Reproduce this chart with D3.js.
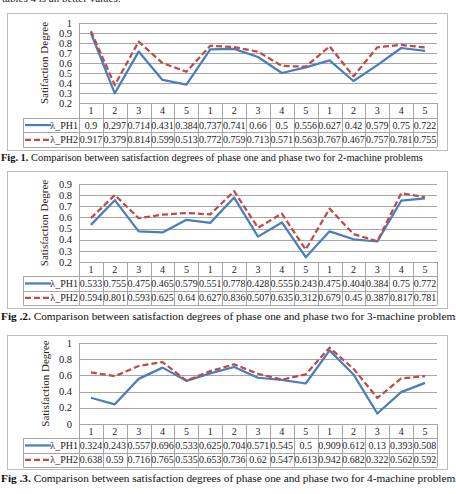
<!DOCTYPE html>
<html>
<head>
<meta charset="utf-8">
<script src="https://cdn.jsdelivr.net/npm/d3@7"></script>
<style>
  body { margin: 0; background: #fff; }
  svg { display: block; }
  svg text { font-family: 'Liberation Serif', 'Times New Roman', Times, 'DejaVu Serif', serif; }
</style>
</head>
<body>
<svg id="fig" width="456" height="494"></svg>
<script>
// problem instances (5 per group, 3 groups)
const categories = ['1','2','3','4','5','1','2','3','4','5','1','2','3','4','5'];
const seriesNames = ['λ_PH1', 'λ_PH2'];

const ph1TwoMachine = [0.9, 0.297, 0.714, 0.431, 0.384, 0.737, 0.741, 0.66, 0.5, 0.556, 0.627, 0.42, 0.579, 0.75, 0.722];
const ph2TwoMachine = [0.917, 0.379, 0.814, 0.599, 0.513, 0.772, 0.759, 0.713, 0.571, 0.563, 0.767, 0.467, 0.757, 0.781, 0.755];

const ph1ThreeMachine = [0.533, 0.755, 0.475, 0.465, 0.579, 0.551, 0.778, 0.428, 0.555, 0.243, 0.475, 0.404, 0.384, 0.75, 0.772];
const ph2ThreeMachine = [0.594, 0.801, 0.593, 0.625, 0.64, 0.627, 0.836, 0.507, 0.635, 0.312, 0.679, 0.45, 0.387, 0.817, 0.781];

const ph1FourMachine = [0.324, 0.243, 0.557, 0.696, 0.533, 0.625, 0.704, 0.571, 0.545, 0.5, 0.909, 0.612, 0.13, 0.393, 0.508];
const ph2FourMachine = [0.638, 0.59, 0.716, 0.765, 0.535, 0.653, 0.736, 0.62, 0.547, 0.613, 0.942, 0.682, 0.322, 0.562, 0.592];

const ticksFig1 = [0.2, 0.3, 0.4, 0.5, 0.6, 0.7, 0.8, 0.9, 1];
const ticksFig2 = [0.2, 0.3, 0.4, 0.5, 0.6, 0.7, 0.8, 0.9];
const ticksFig3 = [0, 0.2, 0.4, 0.6, 0.8, 1];

const colors = ['#4a7ebb', '#be4b48'];

const svg = d3.select('#fig');

// cut-off line of body text above the first figure
svg.append('text')
    .attr('x', 2).attr('y', 1.5)
    .attr('font-size', 11)
    .attr('fill', '#222')
    .text('tables 4 is an better values.');

function drawChart(cfg) {
    const g = svg.append('g');
    const plotLeft = 79, plotRight = 437, legendLeft = 23;

    // outer chart border
    g.append('rect')
        .attr('x', 7.5).attr('y', cfg.boxTop + 0.5)
        .attr('width', 440).attr('height', cfg.boxBottom - cfg.boxTop)
        .attr('fill', '#fff').attr('stroke', '#bdbdbd');

    const x = d3.scaleBand()
        .domain(d3.range(categories.length))
        .range([plotLeft, plotRight]);

    const y = d3.scaleLinear()
        .domain(cfg.domain)
        .range([cfg.plotBottom, cfg.plotTop]);

    // gridlines
    g.append('g').selectAll('line')
        .data(cfg.ticks)
        .join('line')
        .attr('x1', plotLeft).attr('x2', plotRight)
        .attr('y1', d => Math.round(y(d)) + 0.5).attr('y2', d => Math.round(y(d)) + 0.5)
        .attr('stroke', '#a6a6a6').attr('stroke-width', 1);

    // vertical axis line
    g.append('line')
        .attr('x1', plotLeft + 0.5).attr('x2', plotLeft + 0.5)
        .attr('y1', y(cfg.domain[1])).attr('y2', cfg.plotBottom)
        .attr('stroke', '#a6a6a6');

    // tick labels
    g.append('g').selectAll('text')
        .data(cfg.ticks)
        .join('text')
        .attr('x', 72)
        .attr('y', d => y(d))
        .attr('dy', '0.35em')
        .attr('text-anchor', 'end')
        .attr('font-size', 10.5)
        .attr('fill', '#222')
        .text(d => d3.format('~g')(d));

    // axis title
    g.append('text')
        .attr('transform', `translate(${cfg.titleX},${(cfg.plotTop + cfg.plotBottom) / 2}) rotate(-90)`)
        .attr('text-anchor', 'middle')
        .attr('dy', '0.35em')
        .attr('font-size', 11)
        .attr('fill', '#222')
        .text(cfg.yTitle);

    // lines
    const line = d3.line()
        .x((d, i) => x(i) + x.bandwidth() / 2)
        .y(d => y(d));

    cfg.series.forEach((s, k) => {
        g.append('path')
            .datum(s)
            .attr('d', line)
            .attr('fill', 'none')
            .attr('stroke', colors[k])
            .attr('stroke-width', 2.25)
            .attr('stroke-linejoin', 'round')
            .attr('stroke-dasharray', k === 1 ? '6,3' : null);
    });

    // data table
    const rowH = cfg.rowH;
    const t0 = cfg.plotBottom;
    const tbl = g.append('g')
        .attr('font-size', 10)
        .attr('fill', '#222');
    const gridColor = '#a6a6a6';

    // horizontal table lines
    [1, 2, 3].forEach(r => {
        tbl.append('line')
            .attr('x1', legendLeft)
            .attr('x2', plotRight)
            .attr('y1', Math.round(t0 + r * rowH) + 0.5).attr('y2', Math.round(t0 + r * rowH) + 0.5)
            .attr('stroke', gridColor);
    });
    // vertical table lines
    d3.range(categories.length + 1).forEach(i => {
        const xx = Math.round(plotLeft + i * x.bandwidth()) + 0.5;
        tbl.append('line')
            .attr('x1', xx).attr('x2', xx)
            .attr('y1', t0).attr('y2', t0 + 3 * rowH)
            .attr('stroke', gridColor);
    });
    tbl.append('line')
        .attr('x1', legendLeft + 0.5).attr('x2', legendLeft + 0.5)
        .attr('y1', t0 + rowH).attr('y2', t0 + 3 * rowH)
        .attr('stroke', gridColor);

    // header
    tbl.append('g').selectAll('text')
        .data(categories)
        .join('text')
        .attr('x', (d, i) => x(i) + x.bandwidth() / 2)
        .attr('y', t0 + rowH / 2)
        .attr('dy', '0.35em')
        .attr('text-anchor', 'middle')
        .text(d => d);

    cfg.series.forEach((s, k) => {
        const ry = t0 + (k + 1.5) * rowH;
        tbl.append('g').selectAll('text')
            .data(s)
            .join('text')
            .attr('x', (d, i) => x(i) + x.bandwidth() / 2)
            .attr('y', ry)
            .attr('dy', '0.35em')
            .attr('text-anchor', 'middle')
            .text(d => String(d));
        // legend key
        tbl.append('line')
            .attr('x1', 25).attr('x2', 51)
            .attr('y1', ry).attr('y2', ry)
            .attr('stroke', colors[k]).attr('stroke-width', 2.25)
            .attr('stroke-dasharray', k === 1 ? '6,3' : null);
        tbl.append('text')
            .attr('x', 78).attr('y', ry).attr('dy', '0.35em')
            .attr('text-anchor', 'end')
            .text(seriesNames[k]);
    });

    // caption
    const cap = svg.append('text')
        .attr('x', 1).attr('y', cfg.captionY)
        .attr('font-size', cfg.captionSize)
        .attr('fill', '#111');
    cap.append('tspan').attr('font-weight', 'bold').text(cfg.captionLabel);
    cap.append('tspan').text(' ' + cfg.captionText);
}

drawChart({
    boxTop: 13, boxBottom: 150,
    plotTop: 23, plotBottom: 103, rowH: 14.7,
    domain: [0.2, 1], ticks: ticksFig1,
    titleX: 44, yTitle: 'Satifaction Degree',
    series: [ph1TwoMachine, ph2TwoMachine],
    captionY: 161, captionSize: 10.4,
    captionLabel: 'Fig. 1.',
    captionText: 'Comparison between satisfaction degrees of phase one and phase two for 2-machine problems'
});

drawChart({
    boxTop: 171, boxBottom: 308,
    plotTop: 184, plotBottom: 262, rowH: 14.3,
    domain: [0.2, 0.9], ticks: ticksFig2,
    titleX: 44, yTitle: 'Satisfaction Degree',
    series: [ph1ThreeMachine, ph2ThreeMachine],
    captionY: 320, captionSize: 11.3,
    captionLabel: 'Fig .2.',
    captionText: 'Comparison between satisfaction degrees of phase one and phase two for 3-machine problems'
});

drawChart({
    boxTop: 335, boxBottom: 469,
    plotTop: 343, plotBottom: 424, rowH: 14.3,
    domain: [0, 1], ticks: ticksFig3,
    titleX: 45, yTitle: 'Satisfaction Degree',
    series: [ph1FourMachine, ph2FourMachine],
    captionY: 482, captionSize: 11.3,
    captionLabel: 'Fig .3.',
    captionText: 'Comparison between satisfaction degrees of phase one and phase two for 4-machine problems'
});
</script>
</body>
</html>
